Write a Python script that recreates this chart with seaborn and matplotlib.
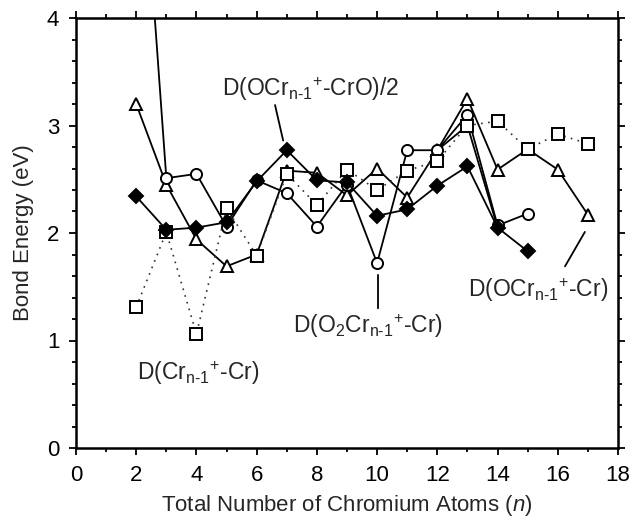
import matplotlib
matplotlib.use("Agg")
import matplotlib.pyplot as plt
import numpy as np
import pandas as pd
import seaborn as sns
from matplotlib.ticker import MultipleLocator

# ---- data ----
n_cr = [2, 3, 4, 5, 6, 7, 8, 9, 10, 11, 12, 13, 14, 15, 16, 17]
d_cr = [1.31, 2.01, 1.06, 2.23, 1.79, 2.55, 2.26, 2.59, 2.40, 2.58, 2.67, 3.00, 3.04, 2.78, 2.92, 2.83]

n_o2 = [2, 3, 4, 5, 6, 7, 8, 9, 10, 11, 12, 13, 14, 15]
d_o2 = [6.40, 2.51, 2.55, 2.06, 2.49, 2.37, 2.06, 2.45, 1.72, 2.77, 2.77, 3.10, 2.07, 2.18]

n_ocr = [2, 3, 4, 5, 6, 7, 8, 9, 10, 11, 12, 13, 14, 15, 16, 17]
d_ocr = [3.20, 2.45, 1.94, 1.69, 1.80, 2.58, 2.56, 2.35, 2.60, 2.33, 2.77, 3.25, 2.59, 2.78, 2.59, 2.17]

n_ocro = [2, 3, 4, 5, 6, 7, 8, 9, 10, 11, 12, 13, 14, 15]
d_ocro = [2.34, 2.03, 2.05, 2.10, 2.48, 2.77, 2.49, 2.47, 2.16, 2.22, 2.44, 2.62, 2.05, 1.83]

n_extra = [12, 13, 14]
d_extra = [2.77, 3.00, 2.05]

x_ticks = [0, 2, 4, 6, 8, 10, 12, 14, 16, 18]
y_ticks = [0, 1, 2, 3, 4]

sns.set_style("ticks")
plt.rcParams["font.family"] = ["Liberation Sans", "DejaVu Sans"]
plt.rcParams["mathtext.fontset"] = "custom"
plt.rcParams["mathtext.rm"] = "Liberation Sans"
plt.rcParams["mathtext.it"] = "Liberation Sans:italic"
plt.rcParams["mathtext.default"] = "rm"

FS = 16
AFS = 16.5

fig = plt.figure(figsize=(6.35, 5.2), dpi=100)
ax = fig.add_axes([76 / 635, 1 - 448 / 520, (618 - 76) / 635, (448 - 18) / 520])

common = dict(color="black", linewidth=1.3, markersize=8, markeredgecolor="black",
              markeredgewidth=1.4, errorbar=None, ax=ax, legend=False)

sns.lineplot(x=n_ocr, y=d_ocr, marker="^", markerfacecolor="white", zorder=3,
             **{**common, "markersize": 9})
sns.lineplot(x=n_o2, y=d_o2, marker="o", markerfacecolor="white", zorder=4, **common)
sns.lineplot(x=n_extra, y=d_extra, zorder=3, **{k: v for k, v in common.items()
                                                 if k not in ("markersize", "markeredgecolor",
                                                              "markeredgewidth")})
sns.lineplot(x=n_cr, y=d_cr, marker="s", markerfacecolor="white", zorder=5,
             **{**common, "linestyle": (0, (1, 3.2)), "color": "#333333",
                "linewidth": 1.2, "markersize": 8})
sns.lineplot(x=n_ocro, y=d_ocro, marker="D", markerfacecolor="black", zorder=6,
             **{**common, "markersize": 7})

ax.set_xlim(0, 18)
ax.set_ylim(0, 4)
ax.set_xticks(x_ticks)
ax.set_yticks(y_ticks)
ax.xaxis.set_minor_locator(MultipleLocator(1))
ax.yaxis.set_minor_locator(MultipleLocator(0.2))
ax.tick_params(which="both", direction="out", top=True, right=True,
               width=1.3, labelsize=FS, colors="black")
ax.tick_params(which="major", length=5, pad=7)
ax.tick_params(which="minor", length=3)
for sp in ax.spines.values():
    sp.set_linewidth(1.8)
    sp.set_color("black")

ax.set_xlabel(r"Total Number of Chromium Atoms ($\mathit{n}$)", fontsize=FS, labelpad=5)
ax.set_ylabel("Bond Energy (eV)", fontsize=FS, labelpad=9)

SUB = r"$_{n\text{-}1}{}^{+}$"

# annotations
line_kw = dict(arrowprops=dict(arrowstyle="-", color="black", lw=1.3,
                               shrinkA=0, shrinkB=0))
ax.text(4.85, 3.27, "D(OCr" + SUB + "-CrO)/2", fontsize=AFS, ha="left", va="baseline")
ax.annotate("", xy=(6.88, 2.86), xytext=(6.61, 3.19), **line_kw)

ax.text(7.21, 1.07, r"D(O$_2$Cr" + SUB + "-Cr)", fontsize=AFS, ha="left", va="baseline")
ax.annotate("", xy=(10.03, 1.61), xytext=(10.03, 1.30), **line_kw)

ax.text(13.02, 1.40, "D(OCr" + SUB + "-Cr)", fontsize=AFS, ha="left", va="baseline")
ax.annotate("", xy=(16.9, 2.01), xytext=(16.24, 1.69), **line_kw)

ax.text(2.03, 0.63, "D(Cr" + SUB + "-Cr)", fontsize=AFS, ha="left", va="baseline")

fig.savefig("out.png", dpi=100)
